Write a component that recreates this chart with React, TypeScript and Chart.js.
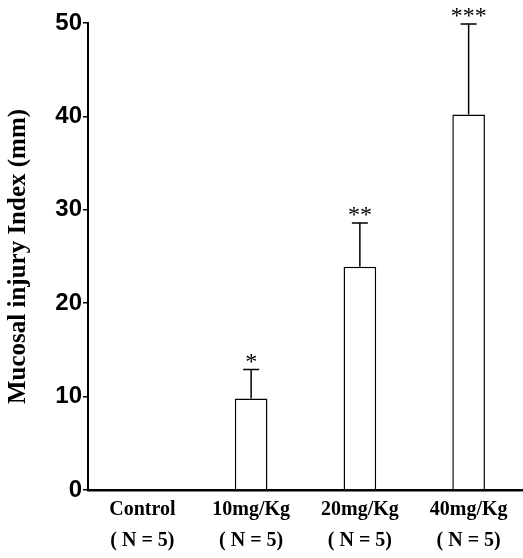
import React, { useEffect, useRef } from "react";
import { Chart, registerables } from "chart.js";

Chart.register(...registerables);

const categories: string[][] = [
  ["Control", "( N = 5)"],
  ["10mg/Kg", "( N = 5)"],
  ["20mg/Kg", "( N = 5)"],
  ["40mg/Kg", "( N = 5)"],
];
const means: number[] = [0, 9.8, 23.9, 40.2];
const errors: number[] = [0, 3.1, 4.7, 9.7];
const stars: string[] = ["", "*", "**", "***"];
const yTicks: number[] = [0, 10, 20, 30, 40, 50];

const errorBarPlugin = {
  id: "errorBars",
  afterDatasetsDraw(chart: any) {
    const { ctx, scales } = chart;
    const meta = chart.getDatasetMeta(0);
    ctx.save();
    meta.data.forEach((bar: any, i: number) => {
      if (!errors[i]) return;
      const x = bar.x;
      const yTop = scales.y.getPixelForValue(means[i] + errors[i]);
      const yBar = scales.y.getPixelForValue(means[i]);
      ctx.strokeStyle = "#000";
      ctx.lineWidth = 1.5;
      ctx.beginPath();
      ctx.moveTo(x, yBar);
      ctx.lineTo(x, yTop);
      ctx.moveTo(x - 8, yTop);
      ctx.lineTo(x + 8, yTop);
      ctx.stroke();
      if (stars[i]) {
        ctx.fillStyle = "#000";
        ctx.font = "24px 'Liberation Serif'";
        ctx.textAlign = "center";
        ctx.textBaseline = "alphabetic";
        ctx.fillText(stars[i], x, yTop - 1);
      }
    });
    ctx.restore();
  },
};

export default function App() {
  const ref = useRef<HTMLCanvasElement | null>(null);
  useEffect(() => {
    if (!ref.current) return;
    const chart = new Chart(ref.current, {
      type: "bar",
      data: {
        labels: categories,
        datasets: [
          {
            data: means,
            backgroundColor: "#fff",
            borderColor: "#000",
            borderWidth: 1.5,
            barPercentage: 0.3,
            categoryPercentage: 1,
          },
        ],
      },
      options: {
        responsive: false,
        animation: false,
        layout: { padding: { top: 23, right: 0, left: 0, bottom: 0 } },
        plugins: { legend: { display: false }, tooltip: { enabled: false } },
        scales: {
          x: {
            grid: { display: true, drawOnChartArea: false, drawTicks: false },
            border: { display: true, color: "#000", width: 2.5 },
            ticks: {
              color: "#000",
              padding: 4,
              maxRotation: 0,
              autoSkip: false,
              font: { family: "'Liberation Serif'", size: 20, weight: "bold", lineHeight: 1.55 },
            },
            afterFit: (axis: any) => {
              axis.height = 68;
            },
          },
          y: {
            min: 0,
            max: 50,
            afterBuildTicks: (axis: any) => {
              axis.ticks = yTicks.map((v) => ({ value: v }));
            },
            grid: { display: true, drawOnChartArea: false, drawTicks: true, tickLength: 5, color: "#000", lineWidth: 1.5 },
            border: { display: true, color: "#000", width: 2 },
            ticks: {
              color: "#000",
              padding: 1,
              font: { family: "'Liberation Sans'", size: 24, weight: "bold" },
            },
            title: {
              display: true,
              text: "Mucosal injury Index (mm)",
              color: "#000",
              padding: { top: 4, bottom: 0 },
              font: { family: "'Liberation Serif'", size: 25, weight: "bold", lineHeight: 1.2 },
            },
            afterFit: (axis: any) => {
              axis.width = 88;
            },
          },
        },
      },
      plugins: [errorBarPlugin],
    });
    return () => chart.destroy();
  }, []);
  return (
    <div style={{ position: "fixed", left: 0, top: 0, width: 523, height: 558, background: "#fff" }}>
      <canvas ref={ref} width={523} height={558} />
    </div>
  );
}
